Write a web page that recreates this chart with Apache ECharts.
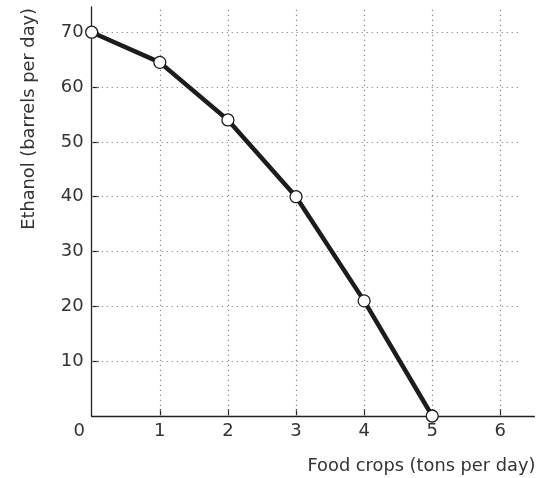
<!DOCTYPE html>
<html>
<head>
<meta charset="utf-8">
<script src="https://cdn.jsdelivr.net/npm/echarts@6/dist/echarts.min.js"></script>
<style>html,body{margin:0;padding:0;background:#fff}#c{width:548px;height:478px}</style>
</head>
<body>
<div id="c"></div>
<script>
var foodCrops = [0, 1, 2, 3, 4, 5];
var ethanol = [70, 64.5, 54, 40, 21, 0];
var xTickValues = [1, 2, 3, 4, 5, 6];
var xLabelValues = [0, 1, 2, 3, 4, 5, 6];
var yTickValues = [10, 20, 30, 40, 50, 60, 70];
var xName = 'Food crops (tons per day)';
var yName = 'Ethanol (barrels per day)';

var X_MAX = 6.5, Y_MAX = 74.6, H_GRID_END = 6.3;
var FONT = 'DejaVu Sans';
var dotted = {color: '#888', width: 1.2, type: [1.2, 3.8]};

var hLines = yTickValues.map(function (v) { return [{coord: [0, v]}, {coord: [H_GRID_END, v]}]; });
var vLines = xTickValues.map(function (v) { return [{coord: [v, 0]}, {coord: [v, Y_MAX]}]; });

var chart = echarts.init(document.getElementById('c'));
chart.setOption({
  animation: false,
  grid: {left: 91.7, top: 7, bottom: 62, right: 13.6, containLabel: false},
  xAxis: {
    type: 'value', min: 0, max: X_MAX,
    name: xName, nameLocation: 'end', nameGap: 1,
    nameTextStyle: {fontFamily: FONT, fontSize: 17.8, color: '#333', align: 'right', verticalAlign: 'top', padding: [41, 0, 0, 0]},
    axisLine: {show: true, lineStyle: {color: '#222', width: 1.3}},
    axisTick: {show: true, inside: true, length: 7, customValues: xTickValues, lineStyle: {color: '#222', width: 1.2}},
    axisLabel: {
      customValues: xLabelValues, margin: 6, fontFamily: FONT, fontSize: 18, color: '#333',
      formatter: function (v) { return v === 0 ? '{z|0}' : String(v); },
      rich: {z: {fontFamily: FONT, fontSize: 18, color: '#333', padding: [0, 25, 0, 0]}}
    },
    splitLine: {show: false}
  },
  yAxis: {
    type: 'value', min: 0, max: Y_MAX,
    name: yName, nameLocation: 'end', nameGap: -1, nameRotate: 90,
    nameTextStyle: {fontFamily: FONT, fontSize: 17.8, color: '#333', align: 'right', verticalAlign: 'bottom', padding: [0, 0, 53, 0]},
    axisLine: {show: true, lineStyle: {color: '#222', width: 1.3}},
    axisTick: {show: true, inside: true, length: 7, customValues: yTickValues, lineStyle: {color: '#222', width: 1.2}},
    axisLabel: {customValues: yTickValues, margin: 8, fontFamily: FONT, fontSize: 18, color: '#333'},
    splitLine: {show: false}
  },
  series: [
    {
      type: 'line', data: [], z: 1, silent: true,
      markLine: {silent: true, symbol: 'none', label: {show: false}, lineStyle: dotted, data: hLines.concat(vLines)}
    },
    {
      type: 'line', z: 5,
      data: foodCrops.map(function (x, i) { return [x, ethanol[i]]; }),
      lineStyle: {color: '#1c1c1c', width: 4.5},
      symbol: 'circle', symbolSize: 12,
      itemStyle: {color: '#fff', borderColor: '#1c1c1c', borderWidth: 1.3}
    }
  ]
});
</script>
</body>
</html>
